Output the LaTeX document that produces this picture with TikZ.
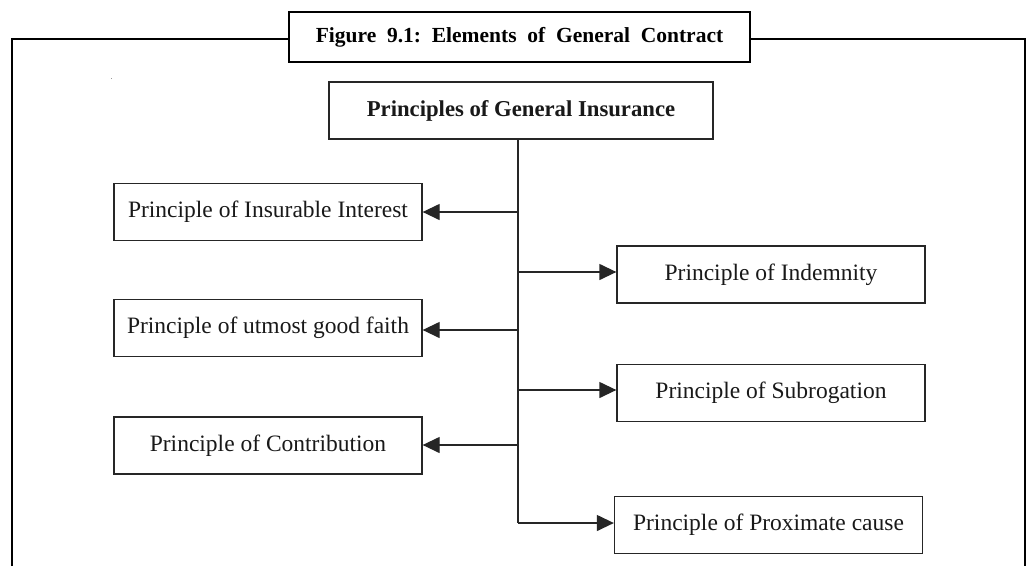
\documentclass[tikz,border=0pt]{standalone}
\usepackage{fontspec}
\setmainfont{Liberation Serif}
\usetikzlibrary{arrows.meta}
\begin{document}
\begin{tikzpicture}[x=1pt,y=-1pt,
  box/.style={draw=black!85,line width=1.3pt,inner sep=0pt,minimum width=308pt,minimum height=57pt,font=\fontsize{23.5}{26}\selectfont,text=black!90},
  titlebox/.style={draw=black,line width=2.8pt,inner sep=0pt,minimum width=461pt,minimum height=50pt,font=\bfseries\fontsize{21.5}{24}\selectfont},
  arr/.style={line width=1.3pt,draw=black!85,-{Triangle[length=17pt,width=16pt]}},
  spine/.style={line width=1.3pt,draw=black!85},
  frame/.style={line width=2.8pt,draw=black}]
\useasboundingbox (0,0) rectangle (1029,566);
\fill[white] (0,0) rectangle (1029,566);
% frame
\node[titlebox] (title) at (519.5,37) {Figure\ \ 9.1:\ \ Elements\ \ of\ \ General\ \ Contract};
\coordinate (fbl) at (12,566);
\coordinate (ftl) at (12,39);
\coordinate (ftr) at (1025,39);
\coordinate (fbr) at (1025,566);
\draw[frame] (fbl) -- (ftl) -- (title.west |- ftl);
\draw[frame] (title.east |- ftr) -- (ftr) -- (fbr);
\fill[black!40] (110.5,77.5) rectangle (112,79);
% top
\node[box,minimum width=384pt,minimum height=57pt,font=\bfseries\fontsize{22.7}{25}\selectfont] (top) at (521,110.5) {Principles of General Insurance};
% left
\node[box] (ins) at (268,212) {Principle of Insurable Interest};
\node[box] (utm) at (268,328) {Principle of utmost good faith};
\node[box] (con) at (268,445.5) {Principle of Contribution};
% right
\node[box] (ind) at (771,274.5) {Principle of Indemnity};
\node[box] (sub) at (771,393) {Principle of Subrogation};
\node[box] (pro) at (768.5,525) {Principle of Proximate cause};
% spine
\coordinate (s1) at (518,212);
\coordinate (s2) at (518,272);
\coordinate (s3) at (518,330);
\coordinate (s4) at (518,390);
\coordinate (s5) at (518,445);
\coordinate (s6) at (518,523);
\draw[spine] (top.south -| s1) -- (s6);
\draw[arr] (s1) -- (ins.east |- s1);
\draw[arr] (s2) -- (ind.west |- s2);
\draw[arr] (s3) -- (utm.east |- s3);
\draw[arr] (s4) -- (sub.west |- s4);
\draw[arr] (s5) -- (con.east |- s5);
\draw[arr] (s6) -- (pro.west |- s6);
\end{tikzpicture}
\end{document}
